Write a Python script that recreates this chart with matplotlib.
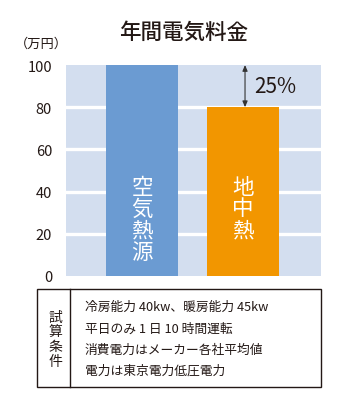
import matplotlib
matplotlib.use("Agg")
import matplotlib.pyplot as plt
from matplotlib.patches import Rectangle
from matplotlib.lines import Line2D

plt.rcParams['font.family'] = ['Noto Sans CJK JP', 'DejaVu Sans']

# Data
categories = ["空気熱源", "地中熱"]
values = [100, 80]
bar_colors = ["#6b9bd2", "#f29600"]
yticks = [0, 20, 40, 60, 80, 100]
title = "年間電気料金"
unit = "（万円）"
diff_label = "25%"
cond_title = "試算条件"
cond_lines = [
    "冷房能力 40kw、暖房能力 45kw",
    "平日のみ 1 日 10 時間運転",
    "消費電力はメーカー各社平均値",
    "電力は東京電力低圧電力",
]

W, H = 348, 414
fig = plt.figure(figsize=(W / 100, H / 100), dpi=100)
ink = "#231815"


def fx(px):
    return px / W


def fy(py):
    return 1 - py / H


# Plot area
ax = fig.add_axes([fx(66), fy(277), fx(321) - fx(66), fy(66) - fy(277)])
ax.set_facecolor("#d3deef")
ax.set_ylim(0, 100)
ax.set_xlim(-0.752, 1.772)
for s in ax.spines.values():
    s.set_visible(False)
ax.set_xticks([])
ax.set_yticks(yticks)
ax.tick_params(axis="y", length=0, pad=10, labelsize=10.5, labelcolor=ink)
for t in yticks[1:-1]:
    ax.axhline(t, color="white", lw=2.4, zorder=1)

x = list(range(len(categories)))
ax.bar(x, values, width=0.713, color=bar_colors, zorder=2)

# Vertical labels inside bars
for xi, name in zip(x, categories):
    ax.text(xi, 47.5, "\n".join(name), ha="center", va="top",
            color="white", fontsize=15.5, linespacing=0.98, zorder=3)

# Difference arrow
ax.annotate("", xy=(1.02, values[0]), xytext=(1.02, values[1]),
            arrowprops=dict(arrowstyle="<|-|>,head_length=0.35,head_width=0.15",
                            color="#333333", lw=0.8, shrinkA=0, shrinkB=0),
            zorder=4)
ax.text(1.11, (values[0] + values[1]) / 2, diff_label, ha="left", va="center",
        fontsize=15, color=ink, zorder=4)

# Title and unit
fig.text(fx(184), fy(33), title, ha="center", va="center", fontsize=15.5,
         color=ink, fontweight="medium")
fig.text(fx(41), fy(44), unit, ha="center", va="center", fontsize=9.5, color=ink)

# Condition box
fig.add_artist(Rectangle((fx(37), fy(388)), fx(321) - fx(37), fy(290) - fy(388),
                         fill=False, edgecolor=ink, lw=1.0, transform=fig.transFigure))
fig.add_artist(Line2D([fx(70), fx(70)], [fy(290), fy(388)], color=ink, lw=1.0,
                      transform=fig.transFigure))
fig.text(fx(55), fy(340), "\n".join(cond_title), ha="center", va="center",
         fontsize=10, color=ink, linespacing=1.08)
line_y = [307, 329, 350, 371]
for yy, line in zip(line_y, cond_lines):
    fig.text(fx(85), fy(yy), line, ha="left", va="center", fontsize=9.2, color=ink)

fig.savefig("out.png", dpi=100, facecolor="white")
